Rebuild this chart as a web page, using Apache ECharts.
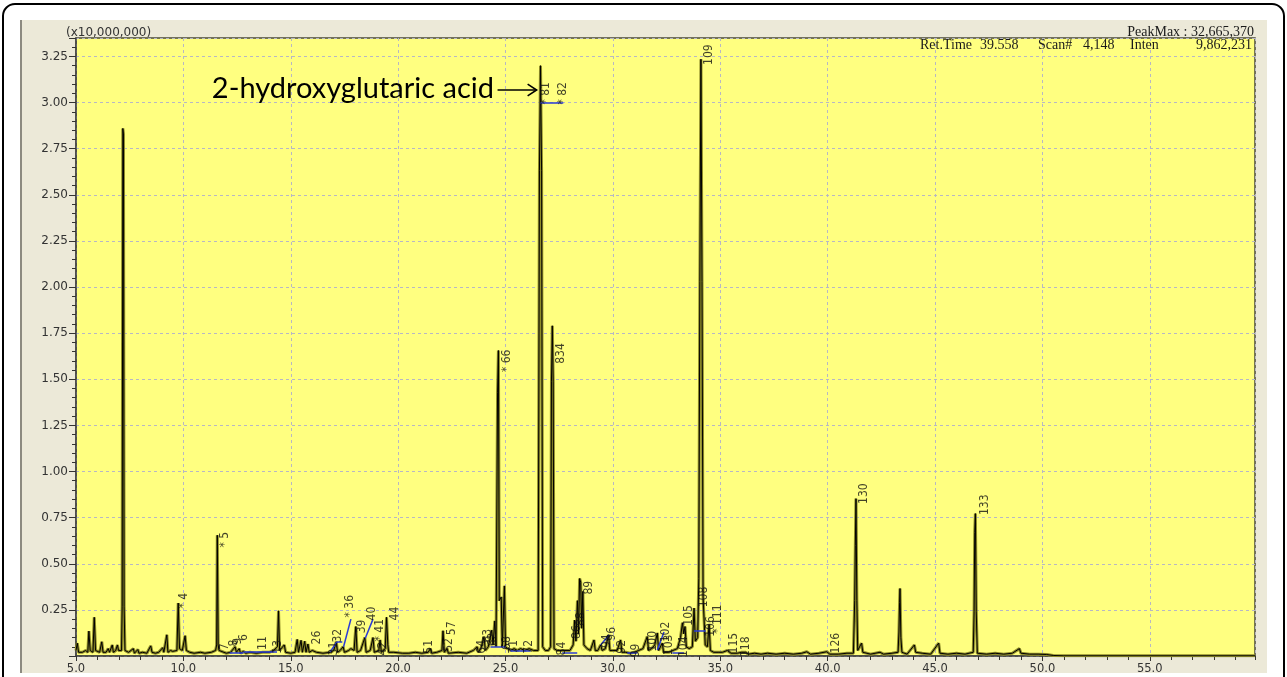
<!DOCTYPE html>
<html>
<head>
<meta charset="utf-8">
<script src="https://cdn.jsdelivr.net/npm/echarts@6/dist/echarts.min.js"></script>
<style>
html,body{margin:0;padding:0;background:#fff;}
#chart{width:1287px;height:677px;}
</style>
</head>
<body>
<div id="chart"></div>
<script>
// Retention time (min) / intensity (x10,000,000) pairs
const trace = [
[5.00,0.03],[5.06,0.07],[5.12,0.02],[5.30,0.02],[5.45,0.03],[5.55,0.02],[5.60,0.135],[5.66,0.03],[5.72,0.04],[5.79,0.02],
[5.85,0.21],[5.91,0.03],[6.00,0.02],[6.10,0.02],[6.20,0.077],[6.26,0.02],[6.40,0.02],[6.50,0.04],[6.56,0.02],[6.69,0.06],
[6.74,0.02],[6.85,0.03],[6.93,0.06],[6.98,0.03],[7.12,0.03],[7.15,0.27],[7.18,2.86],[7.21,2.83],[7.24,0.27],[7.28,0.03],
[7.45,0.02],[7.67,0.04],[7.72,0.015],[7.88,0.035],[7.93,0.015],[8.10,0.02],[8.30,0.015],[8.48,0.055],[8.54,0.02],[8.70,0.015],
[8.85,0.02],[9.04,0.045],[9.09,0.02],[9.18,0.02],[9.23,0.115],[9.28,0.02],[9.40,0.03],[9.50,0.025],[9.70,0.03],[9.76,0.287],
[9.82,0.04],[9.95,0.03],[10.08,0.11],[10.14,0.03],[10.30,0.02],[10.50,0.015],[10.80,0.02],[11.00,0.015],[11.30,0.02],[11.50,0.03],
[11.55,0.06],[11.58,0.655],[11.62,0.06],[11.66,0.03],[11.75,0.02],[12.00,0.015],[12.20,0.02],[12.41,0.05],[12.47,0.02],[12.60,0.04],
[12.66,0.015],[12.80,0.025],[12.90,0.015],[13.10,0.02],[13.40,0.015],[13.70,0.02],[14.00,0.02],[14.20,0.03],[14.38,0.05],[14.43,0.245],
[14.48,0.03],[14.70,0.06],[14.76,0.02],[15.00,0.015],[15.20,0.02],[15.30,0.09],[15.36,0.02],[15.48,0.085],[15.54,0.02],[15.65,0.08],
[15.71,0.02],[15.80,0.065],[15.86,0.02],[16.00,0.03],[16.20,0.02],[16.50,0.015],[16.84,0.02],[17.00,0.03],[17.12,0.077],[17.18,0.02],
[17.30,0.03],[17.44,0.05],[17.50,0.02],[17.70,0.03],[17.80,0.04],[17.95,0.03],[18.03,0.16],[18.09,0.02],[18.25,0.03],[18.45,0.10],
[18.51,0.02],[18.70,0.03],[18.83,0.10],[18.89,0.02],[19.10,0.03],[19.16,0.087],[19.22,0.02],[19.40,0.04],[19.46,0.21],[19.52,0.06],
[19.56,0.02],[19.80,0.02],[20.20,0.015],[20.50,0.015],[20.80,0.02],[21.10,0.015],[21.40,0.02],[21.50,0.04],[21.56,0.015],[21.80,0.02],
[22.04,0.03],[22.09,0.137],[22.15,0.02],[22.28,0.04],[22.34,0.015],[22.80,0.02],[23.20,0.015],[23.50,0.03],[23.68,0.05],[23.74,0.02],
[23.85,0.04],[24.00,0.105],[24.06,0.03],[24.20,0.05],[24.36,0.14],[24.42,0.06],[24.50,0.19],[24.56,0.05],[24.60,0.06],[24.63,1.43],
[24.67,1.656],[24.71,0.30],[24.80,0.32],[24.85,0.05],[24.90,0.05],[24.95,0.38],[25.00,0.05],[25.10,0.04],[25.25,0.03],[25.40,0.04],
[25.55,0.03],[25.70,0.04],[25.90,0.03],[26.10,0.04],[26.30,0.03],[26.52,0.03],[26.58,2.63],[26.63,3.20],[26.68,2.63],[26.73,0.05],
[26.85,0.03],[27.00,0.03],[27.10,0.05],[27.14,1.49],[27.18,1.79],[27.22,1.49],[27.26,0.04],[27.40,0.03],[27.64,0.03],[27.70,0.02],
[28.00,0.03],[28.15,0.06],[28.22,0.195],[28.28,0.08],[28.35,0.30],[28.40,0.12],[28.45,0.42],[28.50,0.40],[28.55,0.15],[28.60,0.35],
[28.65,0.06],[28.80,0.04],[28.95,0.03],[29.12,0.087],[29.18,0.03],[29.30,0.03],[29.43,0.06],[29.50,0.03],[29.65,0.04],[29.80,0.115],
[29.86,0.03],[30.00,0.03],[30.20,0.03],[30.36,0.087],[30.42,0.02],[30.60,0.02],[30.80,0.015],[31.00,0.02],[31.20,0.03],[31.40,0.04],
[31.60,0.105],[31.66,0.03],[31.80,0.04],[31.95,0.06],[32.07,0.125],[32.13,0.03],[32.30,0.07],[32.36,0.02],[32.60,0.02],[32.80,0.03],
[33.00,0.04],[33.15,0.10],[33.24,0.18],[33.30,0.12],[33.36,0.16],[33.42,0.05],[33.55,0.04],[33.70,0.05],[33.78,0.26],[33.84,0.08],
[33.95,0.10],[34.00,0.42],[34.05,2.03],[34.10,3.235],[34.15,2.03],[34.20,0.32],[34.25,0.32],[34.30,0.06],[34.40,0.05],[34.48,0.17],
[34.54,0.03],[34.70,0.02],[34.90,0.02],[35.10,0.02],[35.33,0.03],[35.50,0.015],[35.80,0.015],[36.00,0.02],[36.19,0.02],[36.30,0.01],
[36.60,0.015],[36.90,0.01],[37.20,0.015],[37.60,0.01],[38.00,0.015],[38.40,0.01],[38.80,0.015],[39.03,0.023],[39.20,0.01],[39.60,0.015],
[39.96,0.023],[40.10,0.01],[40.50,0.01],[40.90,0.015],[41.20,0.015],[41.26,0.30],[41.29,0.60],[41.32,0.853],[41.36,0.30],[41.40,0.03],
[41.58,0.07],[41.64,0.02],[42.00,0.01],[42.44,0.02],[42.60,0.01],[43.00,0.015],[43.28,0.02],[43.32,0.13],[43.35,0.29],[43.37,0.366],
[43.41,0.10],[43.46,0.02],[43.70,0.01],[44.04,0.06],[44.10,0.02],[44.40,0.015],[44.80,0.01],[45.17,0.07],[45.23,0.015],[45.60,0.01],
[46.00,0.015],[46.40,0.01],[46.78,0.02],[46.82,0.24],[46.85,0.67],[46.88,0.772],[46.92,0.24],[46.97,0.015],[47.40,0.01],[47.80,0.015],
[48.20,0.01],[48.60,0.015],[48.93,0.04],[49.00,0.015],[49.40,0.01],[49.80,0.01],[50.20,0.008],[50.50,0.003],[51.00,0.001],[59.90,0.001]
];

// Peak number labels: [time, intensity, text]
const peakLabels = [
[10.03,0.30,'* 4'],[11.92,0.63,'* 5'],[11.95,0.05,'7'],[12.35,0.07,'8'],[12.55,0.08,'9'],[12.8,0.10,'6'],[13.7,0.07,'11'],[14.4,0.05,'13'],
[16.2,0.10,'26'],[17.0,0.04,'31'],[17.2,0.11,'32'],[17.77,0.27,'* 36'],[18.32,0.16,'39'],[18.78,0.23,'40'],[19.17,0.14,'* 41'],[19.3,0.04,'42'],
[19.87,0.23,'44'],[21.43,0.05,'51'],[22.35,0.06,'52'],[22.5,0.15,'57'],[23.9,0.05,'64'],[24.2,0.11,'63'],[24.4,0.09,'62'],
[25.08,1.60,'* 66'],[25.05,0.07,'68'],[25.4,0.05,'71'],[26.1,0.05,'72'],[26.87,3.05,'* 81'],[27.66,3.05,'* 82'],[27.56,1.64,'834'],
[27.64,0.04,'84'],[28.3,0.13,'86'],[28.5,0.20,'88'],[28.9,0.37,'89'],[29.7,0.08,'94'],[29.95,0.12,'96'],[30.44,0.05,'92'],[31.06,0.03,'99'],
[31.84,0.08,'100'],[32.46,0.13,'102'],[32.6,0.06,'103'],[33.3,0.05,'104'],[33.55,0.22,'105'],[34.25,0.32,'108'],[34.56,0.16,'106'],
[34.87,0.20,'* 111'],[35.64,0.07,'115'],[36.19,0.05,'118'],[34.46,3.26,'109'],[40.38,0.07,'126'],[41.7,0.88,'130'],[47.3,0.82,'133']
];

// Blue integration baselines: [t1, i1, t2, i2]
const baselines = [
[12.15,0.015,12.8,0.015],[12.8,0.023,14.36,0.023],[16.84,0.023,17.15,0.077],[17.15,0.077,17.4,0.077],[17.46,0.05,17.8,0.2],
[18.47,0.096,18.83,0.2],[24.3,0.05,25.0,0.05],[25.23,0.029,26.17,0.029],[26.63,3.0,27.69,3.0],[27.64,0.018,28.34,0.018],
[29.43,0.06,29.82,0.114],[30.67,0.015,31.14,0.015],[32.07,0.032,32.38,0.13],[32.77,0.018,33.31,0.018],[33.78,0.137,34.32,0.137]
];

// Annotation arrow (data coordinates)
const arrowShaft = [[24.63,3.068],[26.45,3.068]];
const arrowHead = [[26.03,3.10],[26.45,3.068],[26.03,3.036]];

const xMin = 5, xMax = 59.9, yMin = 0, yMax = 3.35;

const chart = echarts.init(document.getElementById('chart'), null, {renderer:'canvas'});
const isMult = (v, s) => Math.abs(v / s - Math.round(v / s)) < 1e-6;
const tickFont = 'DejaVu Sans, Verdana, sans-serif';

const option = {
  animation: false,
  backgroundColor: '#ffffff',
  graphic: [
    {type:'rect', z:-20, shape:{x:3,y:4,width:1281,height:700,r:12}, style:{fill:'#ffffff', stroke:'#000', lineWidth:2}},
    {type:'rect', z:-19, shape:{x:20,y:20,width:1247,height:653}, style:{fill:'#ece9d8'}},
    {type:'line', z:-18, shape:{x1:21,y1:20,x2:21,y2:673}, style:{stroke:'#8c8a80', lineWidth:2}},
    {type:'text', z:100, left:66, top:27, style:{text:'(x10,000,000)', font:'12px DejaVu Sans', fill:'#333'}},
    {type:'text', z:100, right:33, top:25, style:{text:'PeakMax : 32,665,370', font:'14px Liberation Serif', fill:'#1a1a1a'}},
    {type:'text', z:100, left:920, top:38, style:{text:'Ret.Time', font:'14px Liberation Serif', fill:'#1a1a1a'}},
    {type:'text', z:100, left:980, top:38, style:{text:'39.558', font:'14px Liberation Serif', fill:'#1a1a1a'}},
    {type:'text', z:100, left:1038, top:38, style:{text:'Scan#', font:'14px Liberation Serif', fill:'#1a1a1a'}},
    {type:'text', z:100, left:1083, top:38, style:{text:'4,148', font:'14px Liberation Serif', fill:'#1a1a1a'}},
    {type:'text', z:100, left:1130, top:38, style:{text:'Inten', font:'14px Liberation Serif', fill:'#1a1a1a'}},
    {type:'text', z:100, right:35, top:38, style:{text:'9,862,231', font:'14px Liberation Serif', fill:'#1a1a1a'}},
    {type:'text', z:100, right:1287-494, top:74, style:{text:'2-hydroxyglutaric acid', font:'29px Lato', fill:'#000'}}
  ],
  grid: {left:76, top:38, right:32, bottom:21, show:true, backgroundColor:'#ffff80', borderColor:'#4a4a3a', borderWidth:1.5},
  xAxis: [
    {type:'value', min:xMin, max:xMax, interval:5,
     axisLine:{show:true, onZero:false, lineStyle:{color:'#444', width:1.5}},
     axisTick:{show:true, length:5, lineStyle:{color:'#333'}},
     axisLabel:{margin:7, fontSize:11.5, fontFamily:tickFont, color:'#333', showMaxLabel:false,
                formatter:v => isMult(v,5) ? v.toFixed(1) : ''},
     splitLine:{show:true, lineStyle:{color:'#b7b7c4', type:[3,3], width:1}}},
    {type:'value', min:xMin, max:xMax, interval:1, position:'bottom',
     axisLine:{show:false}, axisTick:{show:true, length:4, lineStyle:{color:'#333'}},
     axisLabel:{show:false}, splitLine:{show:false}}
  ],
  yAxis: [
    {type:'value', min:yMin, max:yMax, interval:0.25,
     axisLine:{show:true, onZero:false, lineStyle:{color:'#444', width:1.5}},
     axisTick:{show:true, length:7, lineStyle:{color:'#333'}},
     axisLabel:{margin:8, fontSize:12, fontFamily:tickFont, color:'#333',
                formatter:v => (v > 0 && isMult(v,0.25)) ? v.toFixed(2) : ''},
     splitLine:{show:true, lineStyle:{color:'#b7b7c4', type:[3,3], width:1}}},
    {type:'value', min:yMin, max:yMax, interval:0.05, position:'left',
     axisLine:{show:false}, axisTick:{show:true, length:4, lineStyle:{color:'#333'}},
     axisLabel:{show:false}, splitLine:{show:false}}
  ],
  series: [
    {type:'line', data:trace, showSymbol:false, symbol:'none', z:2,
     lineStyle:{color:'#8f8c2a', width:3}},
    {type:'line', data:trace, showSymbol:false, symbol:'none', z:3,
     lineStyle:{color:'#000', width:1}},
    {type:'lines', coordinateSystem:'cartesian2d', z:4, polyline:false,
     data: baselines.map(b => ({coords:[[b[0],b[1]],[b[2],b[3]]]})),
     lineStyle:{color:'#2a3bd6', width:1.5, opacity:1}},
    {type:'lines', coordinateSystem:'cartesian2d', z:5, polyline:true,
     data:[{coords:arrowShaft},{coords:arrowHead}],
     lineStyle:{color:'#000', width:1.6, opacity:1}},
    {type:'scatter', symbolSize:0, z:6, data:peakLabels,
     label:{show:true, position:'inside', rotate:90, fontSize:12,
            fontFamily:'Liberation Sans Narrow, DejaVu Sans Condensed, sans-serif', color:'#111',
            formatter:p => p.value[2]}}
  ]
};
chart.setOption(option);
</script>
</body>
</html>
